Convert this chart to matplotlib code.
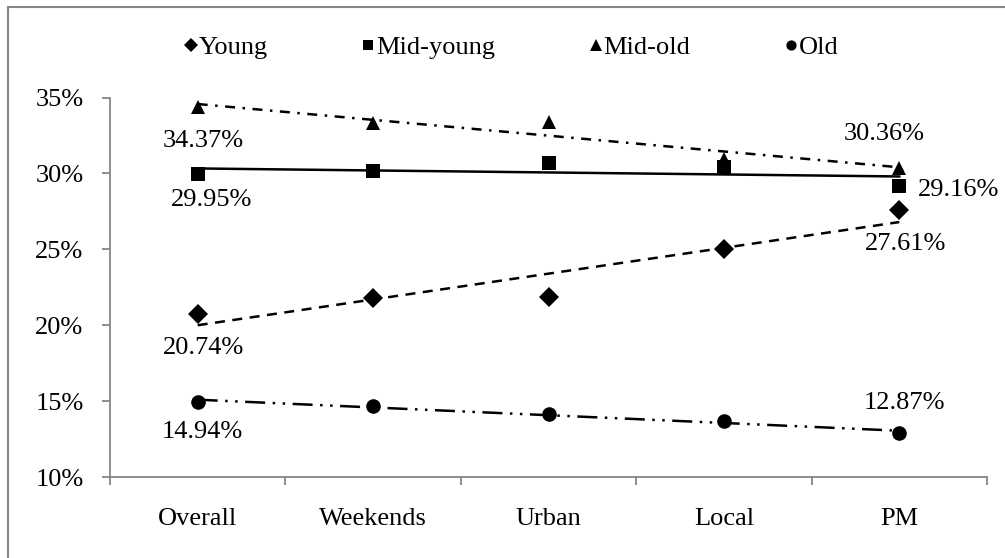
import numpy as np
import matplotlib
matplotlib.use("Agg")
import matplotlib.pyplot as plt
from matplotlib.patches import Rectangle

# Share of each age group by sample subset (percent)
categories = ["Overall", "Weekends", "Urban", "Local", "PM"]
young = [20.74, 21.77, 21.84, 25.02, 27.61]
mid_young = [29.95, 30.14, 30.66, 30.40, 29.16]
mid_old = [34.37, 33.35, 33.40, 30.95, 30.36]
old = [14.94, 14.68, 14.15, 13.71, 12.87]
series_names = ["Young", "Mid-young", "Mid-old", "Old"]
y_ticks = [10, 15, 20, 25, 30, 35]

plt.rcParams["font.family"] = ["Liberation Serif", "DejaVu Serif"]
FS = 19
GREY = "#868686"

fig = plt.figure(figsize=(10.05, 5.58), dpi=100)
ax = fig.add_axes([110 / 1005, (558 - 477) / 558, (987 - 110) / 1005, (477 - 97.5) / 558])

x = np.arange(1, len(categories) + 1)

styles = [
    (young, "D", 10.2, (0, (4, 3))),
    (mid_young, "s", 10.5, "-"),
    (mid_old, "^", 10.5, (0, (4, 3, 1, 3))),
    (old, "o", 10.5, (0, (8, 3, 1, 3, 1, 3))),
]

handles = []
for (vals, mk, ms, ls), name in zip(styles, series_names):
    vals = np.asarray(vals)
    h, = ax.plot(x, vals, linestyle="none", marker=mk, markersize=ms,
                 color="black", markeredgewidth=0, label=name, zorder=3)
    handles.append(h)
    # linear trend line across the categories
    k, b = np.polyfit(x, vals, 1)
    ax.plot(x, k * x + b, linestyle=ls, color="black", linewidth=1.8,
            dash_capstyle="butt", zorder=2)

# value labels at the first and last category
labels = [
    (young, (4.3, -24.5), (4.3, -25)),
    (mid_young, (10, -18.7), (43, -3)),
    (mid_old, (4.3, -24.5), (-10.8, 24.5)),
    (old, (3, -21.6), (3.6, 21.6)),
]
for vals, off_first, off_last in labels:
    for idx, off in ((0, off_first), (len(vals) - 1, off_last)):
        ax.annotate(f"{vals[idx]:.2f}%", xy=(x[idx], vals[idx]), xytext=off,
                    textcoords="offset points", ha="center", va="center",
                    fontsize=FS, color="black")

ax.set_xlim(0.5, len(categories) + 0.5)
ax.set_ylim(10, 35)
ax.set_yticks(y_ticks)
ax.set_yticklabels([f"{v}%" for v in y_ticks])

# category boundaries carry the tick marks, centres carry the names
ax.set_xticks(np.arange(0.5, len(categories) + 1, 1.0))
ax.set_xticklabels([])
ax.set_xticks(x, minor=True)
ax.set_xticklabels(categories, minor=True)
ax.tick_params(axis="x", which="major", direction="out", length=6, width=1.3, color=GREY)
ax.tick_params(axis="x", which="minor", length=0, pad=22, labelsize=FS)
ax.tick_params(axis="y", direction="out", length=6, width=1.3, color=GREY, pad=13, labelsize=FS)

for side in ("top", "right"):
    ax.spines[side].set_visible(False)
for side in ("left", "bottom"):
    ax.spines[side].set_color(GREY)
    ax.spines[side].set_linewidth(1.3)

leg = fig.legend(handles=handles, loc="center", bbox_to_anchor=(512 / 1005, (558 - 47) / 558),
                 ncol=4, frameon=False, fontsize=FS, markerscale=0.7,
                 handlelength=0.4, handletextpad=0.1, columnspacing=3.6)
# the triangle glyph reads smaller than the others at equal size
leg.legend_handles[2].set_markersize(9.0)

# chart area border
fig.patches.append(Rectangle((7.5 / 1005, -0.1), 1.2, (558 - 7.5) / 558 + 0.1,
                             transform=fig.transFigure, fill=False,
                             edgecolor=GREY, linewidth=1.5))

fig.savefig("out.png", dpi=100)
